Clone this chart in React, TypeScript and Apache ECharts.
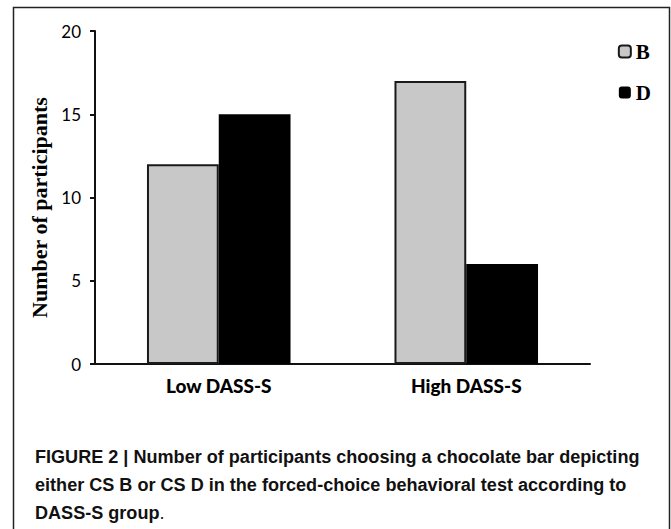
import React, { useEffect, useRef } from "react";
import * as echarts from "echarts";

const categories = ["Low DASS-S", "High DASS-S"];
const seriesB = [12, 17];
const seriesD = [15, 6];
const yTicks = [0, 5, 10, 15, 20];
const captionLines = [
  "FIGURE 2 | Number of participants choosing a chocolate bar depicting",
  "either CS B or CS D in the forced-choice behavioral test according to",
];
const captionLast = "DASS-S group";

export default function App() {
  const ref = useRef<HTMLDivElement>(null);
  useEffect(() => {
    const chart = echarts.init(ref.current!, null, { renderer: "svg" });
    const capFamily = '"Liberation Sans", Arial, sans-serif';
    const capFont = `bold 19px ${capFamily}`;
    // measure to fit the condensed caption width of the reference
    const cv = document.createElement("canvas").getContext("2d")!;
    cv.font = capFont;
    const w1 = cv.measureText(captionLines[0]).width;
    const sx = 605 / w1;
    chart.setOption({
      animation: false,
      backgroundColor: "#fff",
      grid: { left: 95, right: 81, top: 31, bottom: 165 },
      legend: {
        orient: "vertical",
        right: 15,
        top: 36,
        itemWidth: 12,
        itemHeight: 12,
        itemGap: 20,
        data: ["B", "D"],
        textStyle: {
          fontFamily: '"Liberation Serif", serif',
          fontWeight: "bold",
          fontSize: 21,
          color: "#000",
          padding: [3, 0, 0, 0],
        },
      },
      xAxis: {
        type: "category",
        data: categories,
        axisLine: { lineStyle: { color: "#111", width: 2 } },
        axisTick: { show: false },
        axisLabel: {
          margin: 12,
          fontFamily: "Lato, sans-serif",
          fontWeight: 900,
          fontSize: 19,
          color: "#000",
        },
      },
      yAxis: {
        type: "value",
        min: yTicks[0],
        max: yTicks[yTicks.length - 1],
        interval: 5,
        name: "Number of participants",
        nameLocation: "middle",
        nameRotate: 90,
        nameGap: 44,
        nameTextStyle: {
          fontFamily: '"Liberation Serif", serif',
          fontWeight: "bold",
          fontSize: 22,
          color: "#000",
          padding: [0, 20, 0, 0],
        },
        axisLine: { show: true, lineStyle: { color: "#111", width: 2 } },
        axisTick: { show: true, length: 5, lineStyle: { color: "#111", width: 2 } },
        splitLine: { show: false },
        axisLabel: {
          margin: 14,
          fontFamily: "Lato, sans-serif",
          fontSize: 17,
          color: "#000",
        },
      },
      series: [
        {
          name: "B",
          type: "bar",
          data: seriesB,
          barGap: "0%",
          barCategoryGap: "42%",
          itemStyle: { color: "#c8c8c8", borderColor: "#1a1a1a", borderWidth: 2 },
        },
        {
          name: "D",
          type: "bar",
          data: seriesD,
          itemStyle: { color: "#000" },
        },
      ],
      graphic: [
        {
          type: "polyline",
          shape: { points: [[13.5, 540], [13.5, 7.5], [669.5, 7.5], [669.5, 540]] },
          style: { stroke: "#222", lineWidth: 1.5, fill: "none" },
        },
        ...captionLines.map((t, i) => ({
          type: "text",
          x: 35,
          y: 447 + i * 28,
          scaleX: sx,
          style: {
            text: t,
            font: capFont,
            fill: "#111",
          },
        })),
        {
          type: "text",
          x: 35,
          y: 447 + 2 * 28,
          scaleX: sx,
          style: {
            text: "{b|" + captionLast + "}{n|.}",
            rich: {
              b: { font: capFont, fill: "#111" },
              n: { font: `19px ${capFamily}`, fill: "#111" },
            },
          },
        },
      ],
    });
    return () => chart.dispose();
  }, []);
  return (
    <div
      ref={ref}
      style={{ position: "fixed", left: 0, top: 0, width: 671, height: 529 }}
    />
  );
}
